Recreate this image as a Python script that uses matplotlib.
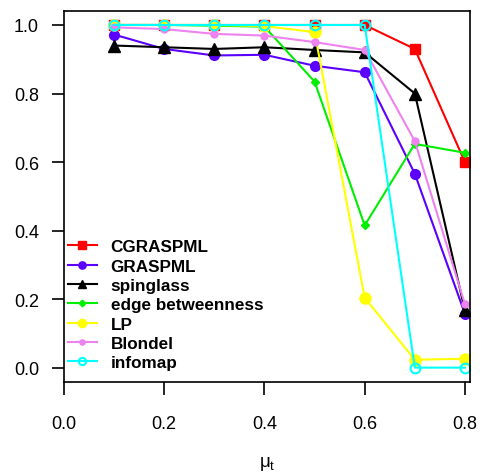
import matplotlib
matplotlib.use('Agg')
import matplotlib.pyplot as plt

plt.rcParams['font.family'] = ['Liberation Sans', 'DejaVu Sans']
plt.rcParams['mathtext.fontset'] = 'custom'
plt.rcParams['mathtext.rm'] = 'Liberation Sans'
plt.rcParams['mathtext.it'] = 'Liberation Sans'

mu = [0.1, 0.2, 0.3, 0.4, 0.5, 0.6, 0.7, 0.8]
cgraspml = [1.0, 1.0, 1.0, 1.0, 1.0, 1.0, 0.93, 0.60]
graspml = [0.972, 0.93, 0.911, 0.913, 0.881, 0.862, 0.566, 0.157]
spinglass = [0.94, 0.935, 0.93, 0.935, 0.927, 0.92, 0.80, 0.167]
edge_btw = [1.0, 1.0, 0.998, 0.995, 0.835, 0.415, 0.653, 0.627]
lp = [1.0, 1.0, 1.0, 0.997, 0.979, 0.204, 0.023, 0.026]
blondel = [0.993, 0.988, 0.974, 0.969, 0.95, 0.927, 0.661, 0.185]
infomap = [1.0, 1.0, 1.0, 1.0, 1.0, 1.0, 0.0, 0.0]

fig = plt.figure(figsize=(4.81, 4.77), dpi=100)
ax = fig.add_axes([0.133, 0.197, 0.844, 0.778])

lw = 1.5
ax.plot(mu, cgraspml, color='red', marker='s', ms=7, lw=lw, label='CGRASPML')
ax.plot(mu, graspml, color='#5B00FF', marker='o', ms=7, lw=lw, label='GRASPML')
ax.plot(mu, spinglass, color='black', marker='^', ms=8.5, lw=lw, label='spinglass')
ax.plot(mu, edge_btw, color='#00EE00', marker='D', ms=4.5, lw=lw, label='edge betweenness')
ax.plot(mu, lp, color='yellow', marker='o', ms=8, lw=lw, label='LP')
ax.plot(mu, blondel, color='violet', marker='o', ms=5, lw=lw, label='Blondel')
ax.plot(mu, infomap, color='cyan', marker='o', ms=7, mfc='none', mew=1.5, lw=lw, label='infomap')

ax.set_xlim(0, 0.81)
ax.set_ylim(-0.042, 1.041)
ax.set_xticks([0.0, 0.2, 0.4, 0.6, 0.8])
ax.set_yticks([0.0, 0.2, 0.4, 0.6, 0.8, 1.0])
ax.set_xticklabels(['0.0', '0.2', '0.4', '0.6', '0.8'])
ax.set_yticklabels(['0.0', '0.2', '0.4', '0.6', '0.8', '1.0'])
ax.tick_params(axis='both', length=9, width=1.2, labelsize=13)
ax.tick_params(axis='x', pad=14.5)
ax.tick_params(axis='y', pad=9)
for s in ax.spines.values():
    s.set_linewidth(1.2)

ax.set_xlabel(r'$\mathregular{\mu_t}$', fontsize=13.5, labelpad=16)

leg = ax.legend(loc='lower left', bbox_to_anchor=(-0.02, 0.0), frameon=False,
                prop={'weight': 'bold', 'size': 12.3}, handlelength=1.7,
                handletextpad=0.8, labelspacing=0.25, markerscale=0.75,
                borderaxespad=0.3)

fig.savefig('out.png', dpi=100)
